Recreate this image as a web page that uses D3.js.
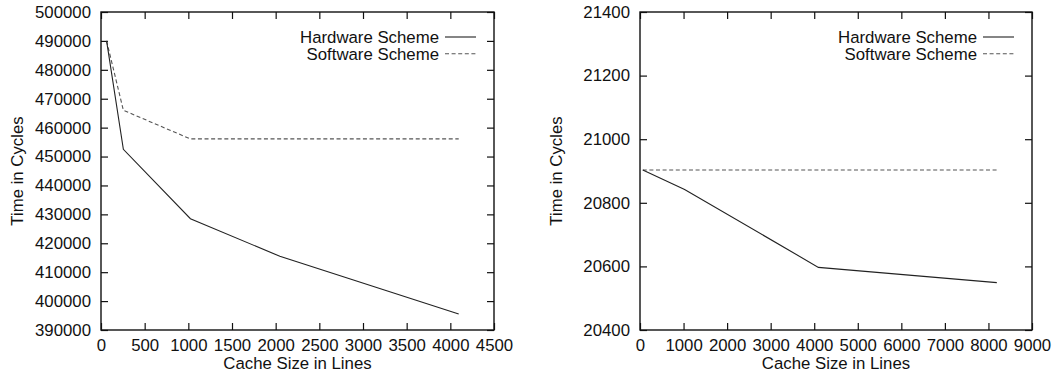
<!DOCTYPE html>
<html>
<head>
<meta charset="utf-8">
<script src="https://cdn.jsdelivr.net/npm/d3@7"></script>
<style>
  body { margin: 0; background: #fff; }
  svg text { font-family: "Liberation Sans", Arial, Helvetica, sans-serif; fill: #111; }
</style>
</head>
<body>
<div id="plot"></div>
<script>
// donnees du graphe de gauche
var left_x = [64, 256, 1024, 2048, 4096];
var left_hw = [490000, 452500, 428500, 415500, 395500];
var left_sw = [490000, 466000, 456100, 456100, 456100];
var left_xticks = [0, 500, 1000, 1500, 2000, 2500, 3000, 3500, 4000, 4500];
var left_yticks = [390000, 400000, 410000, 420000, 430000, 440000, 450000, 460000, 470000, 480000, 490000, 500000];

// donnees du graphe de droite
var right_x = [64, 1024, 4096, 8192];
var right_hw = [20903, 20842, 20597, 20549];
var right_sw = [20903, 20903, 20903, 20903];
var right_xticks = [0, 1000, 2000, 3000, 4000, 5000, 6000, 7000, 8000, 9000];
var right_yticks = [20400, 20600, 20800, 21000, 21200, 21400];

var series_names = ["Hardware Scheme", "Software Scheme"];

var svg = d3.select('#plot').append('svg').attr('width', 1061).attr('height', 374);

/*
 * dessine un graphe (cadre, ticks en miroir, deux courbes, legende)
 */
function draw_plot(x0, x1, xs, hw, sw, xticks, yticks, label_end){
    var top = 12, bottom = 330, fs = 16.8;
    var g = svg.append('g');
    var x = d3.scaleLinear().domain([xticks[0], xticks[xticks.length-1]]).range([x0, x1]);
    var y = d3.scaleLinear().domain([yticks[0], yticks[yticks.length-1]]).range([bottom, top]);

    // axes avec ticks vers l'interieur
    g.append('g').attr('transform', 'translate(' + x0 + ',0)')
        .call(d3.axisLeft(y).tickValues(yticks).tickSize(-7).tickPadding(x0 - label_end).tickFormat(d3.format('d')));
    g.append('g').attr('transform', 'translate(' + x1 + ',0)')
        .call(d3.axisRight(y).tickValues(yticks).tickSize(-7).tickFormat(''));
    g.append('g').attr('transform', 'translate(0,' + bottom + ')')
        .call(d3.axisBottom(x).tickValues(xticks).tickSize(-7).tickPadding(9).tickFormat(d3.format('d')));
    g.append('g').attr('transform', 'translate(0,' + top + ')')
        .call(d3.axisTop(x).tickValues(xticks).tickSize(-7).tickFormat(''));
    g.selectAll('.domain').remove();
    g.selectAll('.tick line').attr('stroke', '#111').attr('stroke-width', 1.2);
    g.selectAll('.tick text').style('font-size', fs + 'px').attr('fill', '#111');

    // cadre
    g.append('rect').attr('x', x0).attr('y', top).attr('width', x1 - x0).attr('height', bottom - top)
        .attr('fill', 'none').attr('stroke', '#111').attr('stroke-width', 1.4);

    // courbes
    var line = d3.line().x(function(d){ return x(d[0]); }).y(function(d){ return y(d[1]); });
    g.append('path').datum(d3.zip(xs, sw)).attr('d', line)
        .attr('fill', 'none').attr('stroke', '#555').attr('stroke-width', 1.1).attr('stroke-dasharray', '4,2.6');
    g.append('path').datum(d3.zip(xs, hw)).attr('d', line)
        .attr('fill', 'none').attr('stroke', '#222').attr('stroke-width', 1.1);

    // legende
    var lx = x1 - 18;
    series_names.forEach(function(name, i){
        var ly = 37 + i * 16.7;
        g.append('text').attr('x', lx - 37).attr('y', ly).attr('dy', '0.36em')
            .attr('text-anchor', 'end').style('font-size', fs + 'px').text(name);
        var l = g.append('line').attr('x1', lx - 31).attr('x2', lx).attr('y1', ly).attr('y2', ly)
            .attr('stroke-width', 1.1);
        if(i == 0) l.attr('stroke', '#222');
        else l.attr('stroke', '#555').attr('stroke-dasharray', '4,2.6');
    });

    // titres des axes
    g.append('text').attr('x', (x0 + x1) / 2).attr('y', 369).attr('text-anchor', 'middle')
        .style('font-size', fs + 'px').text('Cache Size in Lines');
    g.append('text').attr('transform', 'translate(' + (x0 - 78) + ',' + ((top + bottom) / 2) + ') rotate(-90)')
        .attr('text-anchor', 'middle').style('font-size', fs + 'px').text('Time in Cycles');
}

draw_plot(101, 494, left_x, left_hw, left_sw, left_xticks, left_yticks, 91);
draw_plot(640, 1032, right_x, right_hw, right_sw, right_xticks, right_yticks, 630);
</script>
</body>
</html>
